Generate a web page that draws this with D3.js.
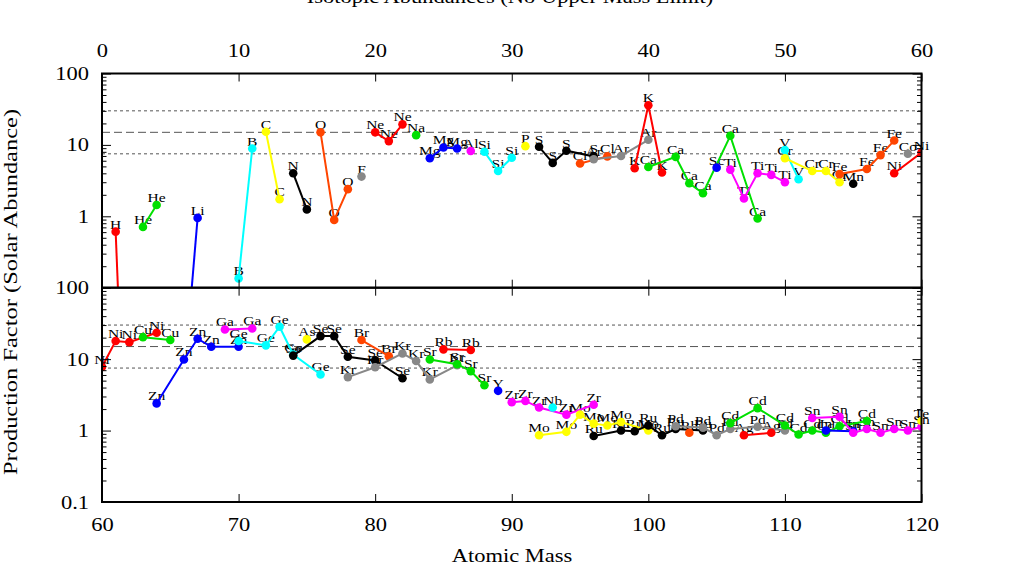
<!DOCTYPE html>
<html>
<head>
<meta charset="utf-8">
<script src="https://cdn.jsdelivr.net/npm/d3@7"></script>
<style>
  body { margin: 0; background: #fff; }
  svg { display: block; }
  text { font-family: "Liberation Serif", "Times New Roman", serif; fill: #000; }
</style>
</head>
<body>
<div id="chart"></div>
<script>
const width = 1024;
const height = 575;

// elements with stable isotopes (Tc has none, so it is not in the list)
const elements = ["H", "He", "Li", "Be", "B", "C", "N", "O", "F", "Ne", "Na", "Mg", "Al", "Si", "P", "S",
  "Cl", "Ar", "K", "Ca", "Sc", "Ti", "V", "Cr", "Mn", "Fe", "Co", "Ni", "Cu", "Zn", "Ga", "Ge", "As",
  "Se", "Br", "Kr", "Rb", "Sr", "Y", "Zr", "Nb", "Mo", "Ru", "Rh", "Pd", "Ag", "Cd", "In", "Sn", "Sb", "Te"];

const masses = [
  [1, 2], [3, 4], [6, 7], [9], [10, 11], [12, 13], [14, 15], [16, 17, 18], [19], [20, 21, 22],
  [23], [24, 25, 26], [27], [28, 29, 30], [31], [32, 33, 34, 36], [35, 37], [36, 38, 40],
  [39, 40, 41], [40, 42, 43, 44, 46, 48], [45], [46, 47, 48, 49, 50], [50, 51], [50, 52, 53, 54],
  [55], [54, 56, 57, 58], [59], [58, 60, 61, 62, 64], [63, 65], [64, 66, 67, 68, 70], [69, 71],
  [70, 72, 73, 74, 76], [75], [74, 76, 77, 78, 80, 82], [79, 81], [78, 80, 82, 83, 84, 86],
  [85, 87], [84, 86, 87, 88], [89], [90, 91, 92, 94, 96], [93], [92, 94, 95, 96, 97, 98, 100],
  [96, 98, 99, 100, 101, 102, 104], [103], [102, 104, 105, 106, 108, 110], [107, 109],
  [106, 108, 110, 111, 112, 113, 114, 116], [113, 115], [112, 114, 115, 116, 117, 118, 119, 120],
  [], [120]
];

const factors = [
  [0.61, 0.00001], [0.71, 1.44], [0.005, 0.95], [0.0001], [0.135, 8.9], [15.3, 1.73], [4.0, 1.25],
  [15.0, 0.89, 2.4], [3.6], [15.0, 11.3, 19.4],
  [13.7], [6.5, 9.2, 8.9], [8.2], [8.0, 4.3, 6.6], [9.6], [9.4, 5.6, 8.3, 6.9], [5.5, 6.9], [6.3, 7.0, 11.8],
  [4.7, 36, 4.1], [4.9, 6.8, 2.9, 2.1, 13.4, 0.93], [4.8], [4.5, 1.78, 4.0, 3.8, 3.0], [8.5, 3.3], [6.5, 4.3, 4.3, 3.0],
  [2.85], [3.9, 4.6, 7.2, 11.5], [7.5], [4.0, 7.8, 17.9, 17.3, 23.4], [20.3, 18.5], [2.4, 9.9, 19.3, 14.9, 14.9], [26, 26.9],
  [17.9, 15.6, 28.4, 11.6, 6.1], [18.9], [11.2, 21, 21, 10.8, 9.6, 5.4], [18.5, 11.0], [5.6, 7.7, 12, 9.4, 5.2, 8.2],
  [13.7, 13.4], [9.9, 8.5, 6.8, 4.3], [3.6], [2.5, 2.6, 2.1, 1.67, 2.3], [2.1], [0.86, 0.96, 1.67, 1.25, 1.18, 1.32, 1.0],
  [0.84, 1.0, 0.98, 1.18, 0.86, 1.05, 1.0], [0.93], [1.15, 1.1, 0.86, 1.05, 1.13, 1.0], [0.86, 0.93],
  [1.27, 2.06, 1.18, 0.88, 1.0, 0.93, 1.15, 1.36], [1.0, 0.98], [1.5, 1.56, 0.93, 1.05, 0.93, 1.05, 1.0, 1.13],
  [], [1.36]
];

const palette = ["#ff0000", "#00e000", "#0000ff", "#ff00ff", "#00ffff", "#ffff00", "#000000", "#ff4500", "#888888"];

const refLines = [30, 15, 7.5];
const refDash = ["3,3", "8,4", "3,3"];

const panels = [
  { domain: [0, 60], top: 73.5, bottom: 287.7, xLabels: "top", yLabels: [1, 10, 100] },
  { domain: [60, 120], top: 287.7, bottom: 502, xLabels: "bottom", yLabels: [0.1, 1, 10, 100] }
];
const xTicksTop = [0, 10, 20, 30, 40, 50, 60];
const xTicksBottom = [60, 70, 80, 90, 100, 110, 120];

const left = 102;
const right = 921.5;
const stretch = 1.25;

const series = elements.map((name, i) => ({
  name: name,
  color: palette[i % palette.length],
  pts: masses[i].map((m, j) => ({ m: m, v: factors[i][j] }))
}));

const svg = d3.select("#chart").append("svg")
  .attr("width", width)
  .attr("height", height);

// title (mostly outside the picture)
svg.append("text")
  .attr("transform", `translate(510,2.5) scale(${stretch},1)`)
  .attr("text-anchor", "middle")
  .style("font-size", "18px")
  .text("Isotopic Abundances (No Upper Mass Limit)");

const minor = [];
[0.1, 1, 10].forEach(d => { for (let k = 2; k <= 9; k++) minor.push(d * k); });

panels.forEach((p, pi) => {
  const x = d3.scaleLinear().domain(p.domain).range([left, right]);
  const y = d3.scaleLog().domain([0.1, 100]).range([p.bottom, p.top]);
  const xt = pi === 0 ? xTicksTop : xTicksBottom;

  const g = svg.append("g");
  const clipId = "clip" + pi;
  svg.append("clipPath").attr("id", clipId)
    .append("rect")
    .attr("x", left).attr("y", p.top)
    .attr("width", right - left).attr("height", p.bottom - p.top);

  // reference lines
  g.selectAll(".ref").data(refLines).enter().append("line")
    .attr("x1", left).attr("x2", right)
    .attr("y1", d => y(d)).attr("y2", d => y(d))
    .attr("stroke", "#555")
    .attr("stroke-width", 1)
    .attr("stroke-dasharray", (d, i) => refDash[i]);

  // labels (behind the marks)
  const inside = d => d.m >= p.domain[0] && d.m <= p.domain[1] && d.v >= 0.1 && d.v <= 100;
  series.forEach(s => {
    g.selectAll(null).data(s.pts.filter(inside)).enter().append("text")
      .attr("transform", d => `translate(${x(d.m)},${y(d.v) - 3}) scale(1.15,1)`)
      .attr("text-anchor", "middle")
      .style("font-size", "13.5px")
      .text(s.name);
  });

  const data = g.append("g").attr("clip-path", `url(#${clipId})`);
  const line = d3.line().x(d => x(d.m)).y(d => y(d.v));
  series.forEach(s => {
    if (s.pts.length > 1) {
      data.append("path")
        .datum(s.pts)
        .attr("d", line)
        .attr("fill", "none")
        .attr("stroke", s.color)
        .attr("stroke-width", 2);
    }
    data.selectAll(null).data(s.pts).enter().append("circle")
      .attr("cx", d => x(d.m))
      .attr("cy", d => y(d.v))
      .attr("r", 4.3)
      .attr("fill", s.color);
  });

  // axes: ticks point inward
  const majorY = [0.1, 1, 10, 100];
  const gl = svg.append("g").attr("transform", `translate(${left},0)`)
    .call(d3.axisLeft(y).tickValues(majorY).tickSizeInner(-9).tickSizeOuter(0)
      .tickFormat(d => p.yLabels.includes(d) ? d3.format("~g")(d) : ""));
  svg.append("g").attr("transform", `translate(${left},0)`)
    .call(d3.axisLeft(y).tickValues(minor).tickSizeInner(-4.5).tickSizeOuter(0).tickFormat(""));
  svg.append("g").attr("transform", `translate(${right},0)`)
    .call(d3.axisRight(y).tickValues(majorY).tickSizeInner(-9).tickSizeOuter(0).tickFormat(""));
  svg.append("g").attr("transform", `translate(${right},0)`)
    .call(d3.axisRight(y).tickValues(minor).tickSizeInner(-4.5).tickSizeOuter(0).tickFormat(""));

  const gt = svg.append("g").attr("transform", `translate(0,${p.top})`)
    .call(d3.axisTop(x).tickValues(xt).tickSizeInner(-8).tickSizeOuter(0)
      .tickFormat(p.xLabels === "top" ? d3.format("d") : ""));
  const gb = svg.append("g").attr("transform", `translate(0,${p.bottom})`)
    .call(d3.axisBottom(x).tickValues(xt).tickSizeInner(-8).tickSizeOuter(0)
      .tickFormat(p.xLabels === "bottom" ? d3.format("d") : ""));

  svg.selectAll(".domain").remove();
  svg.selectAll(".tick line").attr("stroke", "#000").attr("stroke-width", 1);

  gl.selectAll("text")
    .attr("x", null).attr("dy", null)
    .attr("transform", `translate(-13,6) scale(${stretch},1)`)
    .style("font-size", "18px").style("font-family", null);
  gt.selectAll("text")
    .attr("y", null).attr("dy", null)
    .attr("transform", `translate(0,-17) scale(${stretch},1)`)
    .style("font-size", "18px").style("font-family", null);
  gb.selectAll("text")
    .attr("y", null).attr("dy", null)
    .attr("transform", `translate(0,29) scale(${stretch},1)`)
    .style("font-size", "18px").style("font-family", null);
  svg.selectAll(".tick text").attr("fill", "#000");
  [gl, gt, gb].forEach(a => a.attr("font-family", null).attr("font-size", null));

  // frame
  svg.append("rect")
    .attr("x", left).attr("y", p.top)
    .attr("width", right - left).attr("height", p.bottom - p.top)
    .attr("fill", "none")
    .attr("stroke", "#000")
    .attr("stroke-width", 2);
});

// axis titles
svg.append("text")
  .attr("transform", `translate(512,562) scale(${stretch},1)`)
  .attr("text-anchor", "middle")
  .style("font-size", "18px")
  .text("Atomic Mass");

svg.append("text")
  .attr("transform", `translate(16.5,292) rotate(-90) scale(1.36,1)`)
  .attr("text-anchor", "middle")
  .style("font-size", "18px")
  .text("Production Factor (Solar Abundance)");
</script>
</body>
</html>
